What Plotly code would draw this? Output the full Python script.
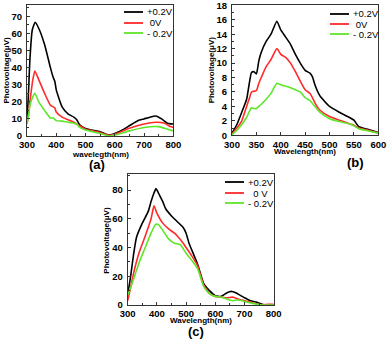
import plotly.graph_objects as go

W, H = 387, 341

series_names_a = ["+0.2V", " 0V", "- 0.2V"]
series_names_b = ["+0.2V", " 0V", "- 0.2V"]
series_names_c = ["+0.2V", "  0 V", "- 0.2V"]
colors = ["#000000", "#ff2a2a", "#5ee62a"]

# Panel (a)
wl_a_pos = [300, 305, 310, 318, 328, 340, 360, 380, 390, 395, 400, 420, 440, 460, 470, 480, 500, 520, 550, 570, 580, 600, 620, 650, 680, 700, 720, 740, 760, 780, 800]
pv_a_pos = [8, 25, 45, 62, 66.5, 63, 53.5, 40, 34, 32, 27, 17, 13, 11, 9.5, 6.5, 4.4, 3.5, 2.5, 1.0, 0.5, 1.5, 3, 6, 9, 10, 11, 11.7, 10, 7.5, 7]
wl_a_zero = [300, 305, 310, 320, 327, 340, 360, 380, 390, 395, 400, 420, 440, 460, 480, 500, 550, 575, 600, 650, 700, 740, 770, 790, 800]
pv_a_zero = [7, 12, 20, 33, 38, 33, 25, 18, 17, 16.5, 14, 11, 9.5, 8, 6, 4, 2, 0.5, 1, 4.5, 7, 8, 7.5, 5.5, 5]
wl_a_neg = [300, 305, 310, 320, 327, 340, 360, 380, 390, 395, 400, 420, 440, 460, 470, 480, 500, 550, 580, 600, 650, 700, 750, 780, 800]
pv_a_neg = [7, 12, 18, 23, 25, 20, 15, 10.5, 10.5, 9.8, 9, 8.7, 8, 7.5, 7, 5, 3.5, 1.5, 0, 0.5, 3, 5, 5.5, 4, 3]

# Panel (b)
wl_b = [300, 310, 320, 330, 335, 340, 345, 350, 355, 360, 370, 380, 392, 400, 410, 420, 430, 440, 450, 460, 465, 470, 480, 500, 520, 540, 550, 560, 580, 600]
pv_b_pos = [0.3, 1.5, 3.2, 5.0, 7.0, 8.7, 8.8, 8.5, 10.3, 11.5, 13.0, 14.0, 15.8, 14.6, 13.6, 12.6, 11.2, 10.0, 9.0, 8.6, 8.1, 7.0, 5.5, 4.0, 3.2, 2.5, 2.1, 1.2, 0.8, 0.4]
pv_b_zero = [0.2, 1.0, 2.0, 4.0, 5.0, 6.0, 6.1, 6.2, 7.2, 8.0, 9.5, 10.5, 12.0, 11.2, 10.8, 10.0, 8.8, 7.5, 6.3, 5.8, 5.2, 4.5, 3.5, 2.6, 2.1, 1.6, 1.4, 1.0, 0.7, 0.3]
pv_b_neg = [0.1, 0.7, 1.5, 2.5, 3.2, 3.8, 3.7, 3.7, 4.0, 4.3, 5.0, 5.8, 7.2, 7.0, 6.8, 6.6, 6.3, 6.0, 5.2, 4.8, 4.4, 4.0, 3.2, 2.3, 1.9, 1.6, 1.3, 0.9, 0.6, 0.3]

# Panel (c)
wl_c_pos = [300, 310, 320, 330, 350, 370, 380, 390, 397, 410, 420, 430, 450, 470, 490, 500, 510, 520, 540, 560, 580, 600, 620, 640, 655, 670, 700, 720, 740, 760, 780, 800]
pv_c_pos = [7, 20, 35, 47, 57, 65, 72, 78, 81, 76, 72, 67, 62, 58, 54, 50, 43, 38, 28, 15, 10, 6.5, 6, 8.5, 9.5, 8.5, 5, 3, 2, 0.5, 0, 0]
wl_c_zero = [300, 310, 320, 340, 360, 380, 390, 400, 420, 440, 460, 470, 490, 500, 520, 540, 560, 580, 600, 620, 640, 660, 680, 700, 720, 760, 780, 800]
pv_c_zero = [3, 12, 22, 37, 48, 60, 69, 64, 57, 53, 50, 48, 43, 40, 34, 27, 14, 8, 6, 5.5, 5, 5.5, 4, 3, 2, 0, 0.5, 0.5]
wl_c_neg = [300, 310, 320, 340, 360, 380, 395, 405, 420, 440, 460, 480, 500, 520, 540, 560, 580, 600, 620, 640, 660, 680, 700, 720, 760, 800]
pv_c_neg = [7, 12, 18, 30, 40, 50, 56, 56, 52, 46, 43, 42, 36, 31, 25, 13, 8, 6, 5.5, 4, 3, 3.5, 2.5, 1.5, 0, 0]

FONT = "Liberation Sans, Arial, sans-serif"

def fx(px):
    return px / W

def fy(py):
    return 1 - py / H

panels = [
    dict(x0=27, x1=173.3, y0=5, y1=136, xr=[300, 800], yr=[0, 76.6], dx=100, dy=10,
         xt="wavelegth(nm)", lab="(a)", labx=97, laby=164, ytx=6, xty=154,
         series=[(wl_a_pos, pv_a_pos), (wl_a_zero, pv_a_zero), (wl_a_neg, pv_a_neg)],
         names=series_names_a, leg_x=124, leg_y=[12, 23, 33]),
    dict(x0=232, x1=378.3, y0=5.3, y1=135.3, xr=[300, 600], yr=[0, 18], dx=50, dy=2,
         xt="Wavelength(nm)", lab="(b)", labx=355, laby=162, ytx=211, xty=151.5,
         series=[(wl_b, pv_b_pos), (wl_b, pv_b_zero), (wl_b, pv_b_neg)],
         names=series_names_b, leg_x=330, leg_y=[14, 24, 34]),
    dict(x0=127.7, x1=273.7, y0=174.3, y1=305, xr=[300, 800], yr=[0, 91], dx=100, dy=20,
         xt="Wavelength(nm)", lab="(c)", labx=196, laby=331, ytx=107, xty=320,
         series=[(wl_c_pos, pv_c_pos), (wl_c_zero, pv_c_zero), (wl_c_neg, pv_c_neg)],
         names=series_names_c, leg_x=225, leg_y=[182, 193, 203]),
]

fig = go.Figure()
annotations = []
shapes = []
layout = {}
for i, p in enumerate(panels):
    n = "" if i == 0 else str(i + 1)
    xa, ya = "x" + n, "y" + n
    for (xs, ys), c in zip(p["series"], colors):
        fig.add_trace(go.Scatter(x=xs, y=ys, mode="lines", xaxis=xa, yaxis=ya,
                                 line=dict(color=c, width=1.6, shape="spline", smoothing=0.5),
                                 showlegend=False, hoverinfo="skip", cliponaxis=True))
    common = dict(showline=True, mirror=True, linecolor="#333", linewidth=1, automargin=False,
                  ticks="inside", ticklen=3, tickcolor="#333", showgrid=False, zeroline=False,
                  ticklabeloverflow="allow",
                  tickfont=dict(family=FONT, size=9.5, color="#000", weight="bold"))
    layout["xaxis" + n] = dict(domain=[fx(p["x0"]), fx(p["x1"])], range=p["xr"], dtick=p["dx"],
                               tick0=p["xr"][0], anchor=ya, ticklabelstandoff=0,
                               minor=dict(ticks="inside", ticklen=2, tickcolor="#333", nticks=2),
                               **common)
    layout["yaxis" + n] = dict(domain=[fy(p["y1"]), fy(p["y0"])], range=p["yr"], dtick=p["dy"],
                               anchor=xa, ticklabelstandoff=2,
                               minor=dict(ticks="inside", ticklen=2, tickcolor="#333", nticks=2),
                               **common)
    # axis titles
    annotations.append(dict(text="Photovoltage(\u03bcV)", x=fx(p["ytx"]), y=fy((p["y0"] + p["y1"]) / 2),
                            xref="paper", yref="paper", showarrow=False, textangle=-90,
                            font=dict(family=FONT, size=8, color="#000", weight="bold"),
                            xanchor="center", yanchor="middle"))
    annotations.append(dict(text=p["xt"], x=fx((p["x0"] + p["x1"]) / 2), y=fy(p["xty"]),
                            xref="paper", yref="paper", showarrow=False,
                            font=dict(family=FONT, size=8, color="#000", weight="bold"),
                            xanchor="center", yanchor="middle"))
    annotations.append(dict(text=p["lab"], x=fx(p["labx"]), y=fy(p["laby"]),
                            xref="paper", yref="paper", showarrow=False,
                            font=dict(family=FONT, size=13, color="#000", weight="bold"),
                            xanchor="center", yanchor="middle"))
    # legend
    for name, c, ly in zip(p["names"], colors, p["leg_y"]):
        shapes.append(dict(type="line", xref="paper", yref="paper",
                           x0=fx(p["leg_x"]), x1=fx(p["leg_x"] + 19), y0=fy(ly), y1=fy(ly),
                           line=dict(color=c, width=1.8)))
        annotations.append(dict(text=name, x=fx(p["leg_x"] + 21), y=fy(ly), xref="paper", yref="paper",
                                showarrow=False, xanchor="left", yanchor="middle",
                                font=dict(family=FONT, size=9.5, color="#000")))

fig.update_layout(width=W, height=H, margin=dict(l=0, r=0, t=0, b=0),
                  paper_bgcolor="white", plot_bgcolor="white",
                  annotations=annotations, shapes=shapes, **layout)
fig.write_html("out.html", config={"displayModeBar": False, "staticPlot": True},
               post_script="document.body.style.margin='0';document.body.style.overflow='hidden';")
